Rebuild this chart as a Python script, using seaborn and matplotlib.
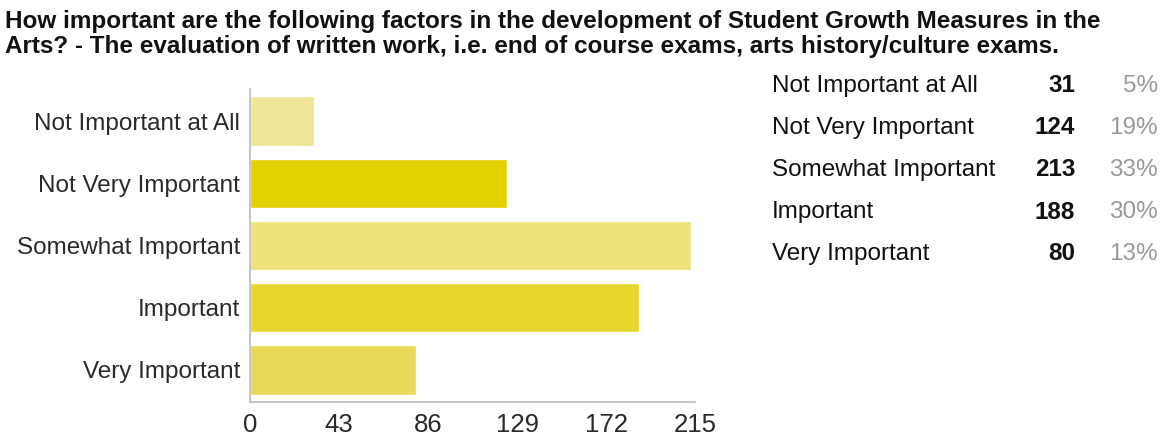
import matplotlib
matplotlib.use('Agg')
import matplotlib.pyplot as plt
import seaborn as sns
import pandas as pd

# data
categories = ['Not Important at All', 'Not Very Important', 'Somewhat Important', 'Important', 'Very Important']
counts = [31, 124, 213, 188, 80]
percents = ['5%', '19%', '33%', '30%', '13%']
bar_colors = ['#F0E698', '#E2D200', '#EDE27C', '#E6D62E', '#E8DA58']
x_ticks = [0, 43, 86, 129, 172, 215]
title_lines = ['How important are the following factors in the development of Student Growth Measures in the',
               'Arts? - The evaluation of written work, i.e. end of course exams, arts history/culture exams.']

df = pd.DataFrame({'category': categories, 'count': counts})

sns.set_theme(style='white')
plt.rcParams['font.family'] = ['Liberation Sans', 'DejaVu Sans']

fig = plt.figure(figsize=(11.74, 4.36), dpi=100)
ax = fig.add_axes([250 / 1174, 1 - 402 / 436, 445 / 1174, 313 / 436])

sns.barplot(data=df, x='count', y='category', hue='category', palette=bar_colors,
            order=categories, legend=False, width=0.8, saturation=1, ax=ax)

ax.set_xlim(0, 215)
ax.set_ylim(4.52, -0.52)
ax.set_xticks(x_ticks)
ax.set_xlabel('')
ax.set_ylabel('')
ax.tick_params(axis='y', length=5, width=1, color='#BBBBBB', labelsize=17.5, labelcolor='#2A2A2A', pad=2, direction='out')
ax.tick_params(axis='x', length=5, width=1, color='#BBBBBB', labelsize=18.5, labelcolor='#2A2A2A', pad=3, direction='out')
for side in ['top', 'right']:
    ax.spines[side].set_visible(False)
for side in ['left', 'bottom']:
    ax.spines[side].set_color('#BBBBBB')
    ax.spines[side].set_linewidth(1.2)

# two-line bold title
for i, line in enumerate(title_lines):
    fig.text(5 / 1174, 1 - (28 + 25 * i) / 436, line, ha='left', va='baseline', fontsize=17.5,
             fontweight='bold', color='#111111')

# side table
for i, cat in enumerate(categories):
    y = 1 - (86 + 42 * i) / 436
    fig.text(772 / 1174, y, cat, ha='left', va='center', fontsize=17.5, color='#111111')
    fig.text(1075 / 1174, y, str(counts[i]), ha='right', va='center', fontsize=17.5, fontweight='bold', color='#111111')
    fig.text(1158 / 1174, y, percents[i], ha='right', va='center', fontsize=17.5, color='#999999')

fig.savefig('out.png', dpi=100)
